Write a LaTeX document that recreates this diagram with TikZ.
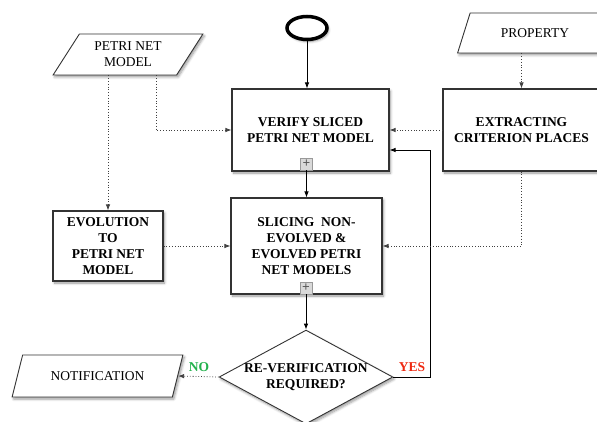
\documentclass[tikz,border=0pt]{standalone}
\usepackage{fontspec}
\setmainfont{Liberation Serif}
\usetikzlibrary{calc, positioning}
\usetikzlibrary{arrows.meta}
\usetikzlibrary{shapes.geometric}
\usetikzlibrary{shadows, shadows.blur}

\definecolor{nogreen}{HTML}{22B14C}
\definecolor{yesred}{HTML}{EE2A12}
\newcommand\diagfont{\fontsize{13.5}{16}\selectfont}

\tikzset{
  boxshadow/.style={blur shadow={shadow xshift=1.5pt, shadow yshift=-2pt,
      shadow blur steps=6, shadow blur radius=2.5pt}},
  procbox/.style={draw=black!80, line width=1.1pt, fill=white, boxshadow,
      align=center, font=\diagfont\bfseries, inner sep=2pt},
  iobox/.style={trapezium, trapezium left angle=54, trapezium right angle=126,
      trapezium stretches=true, draw=black!80, line width=0.9pt, fill=white,
      boxshadow, align=center, inner sep=0pt},
  plusbox/.style={draw=black!40, fill=black!15, minimum size=12pt, inner sep=0pt,
      font=\diagfont\bfseries\color{black!65}},
  flow/.style={-{Latex[length=6pt,width=4.5pt]}, line width=0.8pt},
  feed/.style={dotted, black!75, -{Latex[length=6pt,width=4.5pt]}, line width=0.8pt},
}

\begin{document}
\begin{tikzpicture}[x=1pt, y=-1pt, font=\diagfont]
\useasboundingbox (0,0) rectangle (597,422);

\coordinate (loop) at (430,150);

% start and process boxes
\node[ellipse, draw, line width=3.5pt, fill=white, boxshadow,
      minimum width=40pt, minimum height=23pt, inner sep=0pt] (start) at (307,28) {};
\node[procbox, minimum width=157pt, minimum height=82pt] (verify) at (310.5,130)
      {VERIFY SLICED\\PETRI NET MODEL};
\node[procbox, minimum width=157pt, minimum height=82pt] (extract) at (521.5,130)
      {EXTRACTING\\CRITERION PLACES};
\node[procbox, minimum width=110pt, minimum height=70pt] (evolve) at (108,246)
      {EVOLUTION\\TO\\PETRI NET\\MODEL};
\node[procbox, minimum width=151pt, minimum height=96pt] (slice) at (306.5,246)
      {SLICING\ \ NON-\\EVOLVED \&\\EVOLVED PETRI\\NET MODELS};
\node[diamond, aspect=1.85, draw=black!80, line width=0.9pt, fill=white, boxshadow,
      align=center, font=\diagfont\bfseries, inner sep=0pt] (recheck) at (306,377)
      {RE-VERIFICATION\\REQUIRED?};

% inputs and outputs
\node[iobox, minimum width=150pt, minimum height=41pt] (petri) at (128,54.5)
      {PETRI NET\\MODEL};
\node[iobox, minimum width=156pt, minimum height=40pt] (property) at (535,33)
      {PROPERTY};
\node[iobox, minimum width=171pt, minimum height=42pt] (notify) at (97.5,376)
      {NOTIFICATION};

\node[plusbox] (plusV) at (306.5,164) {+};
\node[plusbox] (plusS) at (306,288) {+};

% connectors
\draw[flow] (start) -- (start |- verify.north);
\draw[flow] (plusV) -- (plusV |- slice.north);
\draw[flow] (plusS) -- (recheck.north);
\draw[flow] (recheck.east) -| (loop) -- (loop -| verify.east);
\draw[feed] (recheck.west) -- (notify.east);
\draw[feed] (extract.west) -- (verify.east);
\draw[feed] (property.south -| extract.north) -- (extract.north);
\draw[feed] (extract.south) |- (slice.east);
\draw[feed] ([xshift=28pt]petri.south) |- (verify.west);
\draw[feed] (evolve.north |- petri.south) -- (evolve.north);
\draw[feed] (evolve.east) -- (slice.west);

\node[font=\diagfont\bfseries, text=nogreen] (nolabel) at (199,367) {NO};
\node[font=\diagfont\bfseries, text=yesred] (yeslabel) at (412,367) {YES};
\end{tikzpicture}
\end{document}
